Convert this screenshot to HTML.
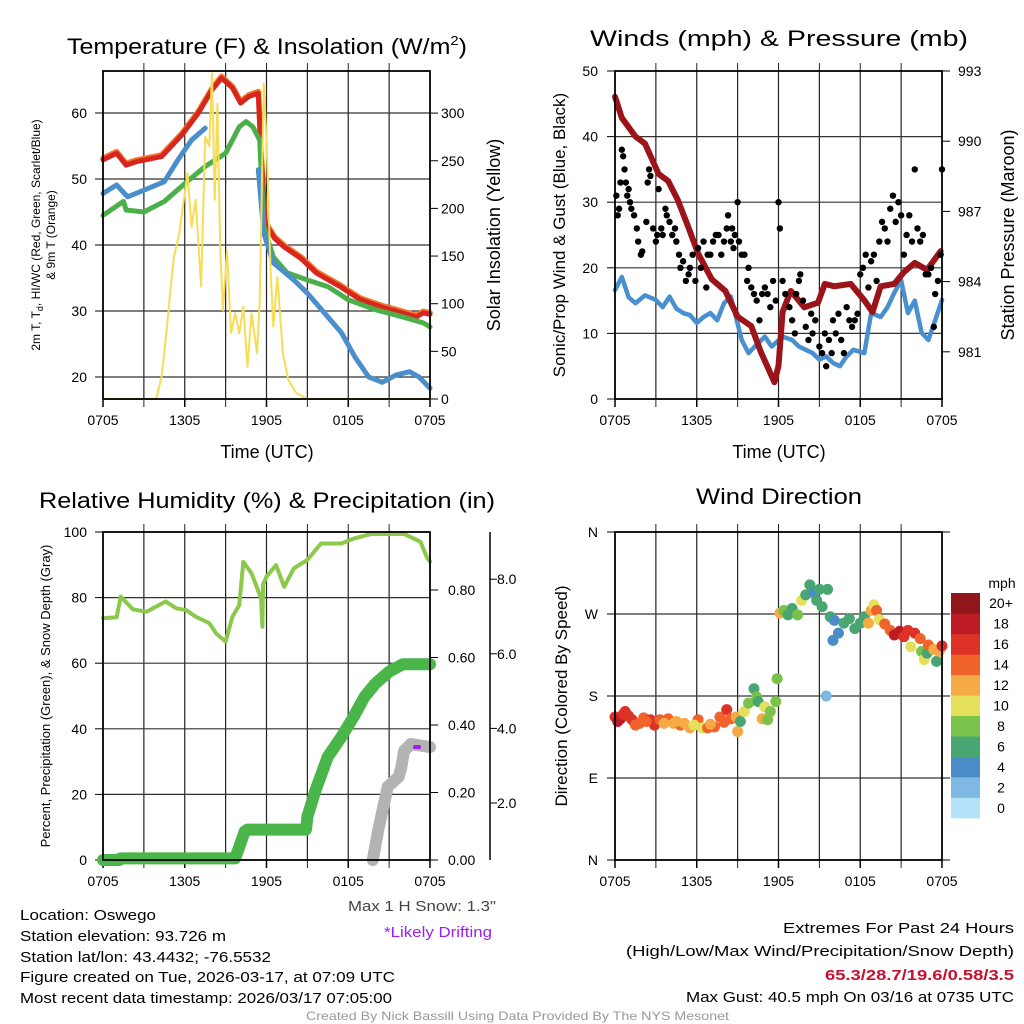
<!DOCTYPE html>
<html><head><meta charset="utf-8"><style>
html,body{margin:0;padding:0;background:#fff;}
svg{display:block;font-family:"Liberation Sans",Arial,sans-serif;}
</style></head><body>
<svg id="fig" xmlns="http://www.w3.org/2000/svg" width="1024" height="1024" viewBox="0 0 1024 1024">
<rect x="0" y="0" width="1024" height="1024" fill="#fff"/>
<text x="267" y="54" font-size="22" text-anchor="middle" textLength="400" lengthAdjust="spacingAndGlyphs">Temperature (F) &amp; Insolation (W/m<tspan font-size="13" dy="-9">2</tspan><tspan dy="9">)</tspan></text>
<text x="779" y="46" font-size="22" text-anchor="middle" textLength="378" lengthAdjust="spacingAndGlyphs">Winds (mph) &amp; Pressure (mb)</text>
<text x="267" y="508" font-size="22" text-anchor="middle" textLength="456" lengthAdjust="spacingAndGlyphs">Relative Humidity (%) &amp; Precipitation (in)</text>
<text x="779" y="504" font-size="22" text-anchor="middle" textLength="166" lengthAdjust="spacingAndGlyphs">Wind Direction</text>
<g id="p1"></g>
<g id="p2"></g>
<g id="p3"></g>
<g id="p4"></g>
<g font-size="15">
<text x="20" y="920" textLength="136" lengthAdjust="spacingAndGlyphs">Location: Oswego</text>
<text x="20" y="941" textLength="206" lengthAdjust="spacingAndGlyphs">Station elevation: 93.726 m</text>
<text x="20" y="962" textLength="251" lengthAdjust="spacingAndGlyphs">Station lat/lon: 43.4432; -76.5532</text>
<text x="20" y="982" textLength="375" lengthAdjust="spacingAndGlyphs">Figure created on Tue, 2026-03-17, at 07:09 UTC</text>
<text x="20" y="1003" textLength="372" lengthAdjust="spacingAndGlyphs">Most recent data timestamp: 2026/03/17 07:05:00</text>
<text x="348" y="911" textLength="148" lengthAdjust="spacingAndGlyphs" fill="#444">Max 1 H Snow: 1.3"</text>
<text x="384" y="937" textLength="108" lengthAdjust="spacingAndGlyphs" fill="#a020f0">*Likely Drifting</text>
<text x="783" y="933" textLength="231" lengthAdjust="spacingAndGlyphs">Extremes For Past 24 Hours</text>
<text x="626" y="956" textLength="388" lengthAdjust="spacingAndGlyphs">(High/Low/Max Wind/Precipitation/Snow Depth)</text>
<text x="825" y="980" textLength="189" lengthAdjust="spacingAndGlyphs" fill="#c8102e" font-weight="bold">65.3/28.7/19.6/0.58/3.5</text>
<text x="686" y="1002" textLength="328" lengthAdjust="spacingAndGlyphs">Max Gust: 40.5 mph On 03/16 at 0735 UTC</text>
<text x="306" y="1020" font-size="12" textLength="423" lengthAdjust="spacingAndGlyphs" fill="#999">Created By Nick Bassill Using Data Provided By The NYS Mesonet</text>
</g>
</svg>
<script>
// ---------- DATA ----------
const timeLabels = ["0705","1305","1905","0105","0705"];
const tempHours = [0,1,1.7,2.4,4.3,5.8,7,8,8.7,9.5,10.1,10.7,11.4,11.6,11.9,12.6,13.3,14.5,15.7,17.4,18.9,20.6,22,23,23.5,24];
const tempValues = [52.9,53.9,52.1,52.6,53.4,56.7,60,63.5,65.3,63.8,61.5,62.5,63,53.9,43.3,41,39.7,38,35.7,33.7,31.7,30.5,29.7,29.1,29.7,29.5];
const hiHoursA = [0,1,1.8,3,4.5,5.5,6.5,7.5];
const hiValuesA = [47.8,49.1,47.3,48.3,49.6,52.9,55.9,57.7];
const hiHoursB = [11.4,11.8,12.5,14,15,16.5,17.5,18.5,19.5,20.5,21.5,22.5,23.2,24];
const hiValuesB = [51.4,41.8,37.3,34.7,32.7,29.1,26.7,23,20,19.2,20.3,20.8,20,18.3];
const dewHours = [0,1.5,1.7,3,4.5,6,7.5,9,10,10.5,11,11.5,11.8,12.5,13.5,15,16.5,18,20,22,23.5,24];
const dewValues = [44.5,46.6,45.3,45,46.6,49.3,51.9,53.9,57.9,58.7,57.9,55.9,42.8,38.2,35.8,34.7,33.7,31.7,30.2,29.1,28.2,27.6];
const solarHours = [0,3.9,4.3,4.7,5,5.2,5.6,6,6.2,6.5,6.8,7.2,7.5,7.8,8,8.2,8.4,8.6,8.8,9.1,9.4,9.7,10,10.3,10.6,10.9,11.3,11.5,11.8,12,12.3,12.5,12.8,13.2,13.6,14.2,15,24];
const solarValues = [0,0,23,76,122,149,174,216,237,181,209,118,275,265,342,209,310,160,93,156,69,90,69,97,34,90,48,100,331,272,135,76,128,48,20,6,0,0];
const tempTicks = [20,30,40,50,60];
const solarTicks = [0,50,100,150,200,250,300];
const presHours = [0,0.5,1.5,2.2,3.2,3.9,4.6,5.4,6.1,7.1,8.1,9,10,10.7,11.7,12,12.3,12.9,13.9,14.9,15.4,16.1,17.3,18.3,18.9,19.5,20.5,21.2,22,22.9,23.9];
const presValues = [991.9,991,990.2,989.9,988.6,988.3,987.5,986.3,985.2,984.1,983.6,982.5,982.1,981,979.7,980.4,982.7,983.6,982.9,983.1,983.9,983.8,983.9,983.2,982.7,983.8,983.9,984.4,984.8,984.5,985.3];
const windHours = [0,0.5,1,1.5,2.2,3,3.5,4,4.5,5,5.5,6,6.5,7,7.5,8,8.5,9.3,9.8,10.5,11,11.5,12.3,13,13.5,14,14.5,15,15.5,16,16.5,17,17.5,18.3,18.8,19.5,20,20.5,21,21.5,22,22.5,23,23.5,24];
const windValues = [16.6,18.6,15.5,14.6,15.8,15.1,14,15.6,13.8,13.1,12.8,11.6,12.5,13.1,12,14.6,15.6,9,7,8.5,9.5,8,9.5,9,8,7.5,7,6,6.5,5.5,5,6.5,7.5,7,13.1,12.5,14,16.2,18.1,13.1,15,10.1,9,12,15.1];
const gustHours = [0.1,0.2,0.3,0.4,0.5,0.6,0.7,0.8,0.9,1.0,1.1,1.2,1.4,1.6,1.7,1.9,2.0,2.3,2.4,2.5,2.6,2.8,3.0,3.1,3.2,3.4,3.5,3.7,3.8,4.0,4.2,4.4,4.5,4.7,4.8,5.0,5.2,5.4,5.5,5.7,5.9,6.1,6.3,6.5,6.7,6.8,7.0,7.2,7.4,7.6,7.8,8.0,8.2,8.3,8.5,8.6,8.7,8.8,9.0,9.1,9.3,9.5,9.7,9.8,10.0,10.2,10.4,10.6,10.8,11.0,11.2,11.4,11.6,11.8,12.0,12.1,12.3,12.5,12.8,13.0,13.2,13.3,13.5,13.6,13.8,14.0,14.2,14.4,14.5,14.7,15.0,15.2,15.4,15.5,15.7,15.9,16.0,16.2,16.4,16.6,16.8,17.0,17.2,17.4,17.6,17.8,18.0,18.2,18.4,18.6,18.8,19.0,19.2,19.4,19.6,19.8,20.0,20.2,20.4,20.6,20.8,21.0,21.2,21.4,21.6,21.8,22.0,22.2,22.4,22.6,22.8,23.0,23.2,23.4,23.5,23.7,23.9,24.0];
const gustValues = [31,28,29,33,38,37,35,33,31,32,30,29,28,26,24,22,22.5,27,33,35,34,26,24,25,32,26,25,29,28,27,25,26,24,22,20,21,18,19,20,22,18,23,20,24,17,22,22,24,25,25,22,24,26,28,24,26,23,25,30,24,22,22,18,20,17,16,15,12,16,17,16,14,18,15,30,26,18,16,14,12,10,16,18,19,15,11,9,13,10,12,8,7,10,5,9,7,12,10,13,9,7,14,12,11,12,13,19,20,22,17,21,22,18,24,27,26,24,29,31,27,30,28,22,25,28,24,35,26,24,25,19,19,20,11,16,18,22,35];
const windTicks = [0,10,20,30,40,50];
const presTicks = [981,984,987,990,993];
const rhHours = [0,1,1.3,2.2,3.2,4.6,5.4,6.1,6.8,7.8,8.3,9,9.5,10,10.3,10.9,11.6,11.7,11.75,12,12.7,13.3,14,15,16,17.5,18.4,19.7,22.1,23.3,23.8,24];
const rhValues = [73.7,74,80.3,76.4,75.7,78.8,76.7,76.2,74.2,72.2,69.1,66.6,74.2,77.7,90.9,87.4,79.8,71.1,84,86.4,89.9,83.3,88.9,91.5,96.5,96.5,98,99.4,99.4,97,92,91];
const precipHours = [0,1.2,1.3,9.7,10.1,10.4,10.6,14.9,15.0,15.6,16.5,17.5,18.4,19.2,20,21,22,24];
const precipValues = [0,0,0.005,0.005,0.05,0.085,0.09,0.09,0.128,0.207,0.306,0.365,0.425,0.484,0.523,0.558,0.58,0.58];
const snowHours = [19.8,20.2,20.9,21.7,21.9,22.1,22.6,24];
const snowValues = [0.47,1.27,2.44,2.7,2.97,3.4,3.58,3.5];
const rhTicks = [0,20,40,60,80,100];
const precipTicks = [0,0.2,0.4,0.6,0.8];
const snowTicks = [2,4,6,8];
const dirHours = [0,0.4,0.75,1.25,1.5,2.1,2.6,2.9,3.3,3.9,4.3,4.8,5.1,5.5,6.1,6.4,6.8,7.3,7.7,8.2,8.5,8.9,9.0,9.2,9.5,9.8,10.2,10.4,10.5,10.8,11.0,11.2,11.4,11.8,11.9,12.1,12.4,12.7,13.0,13.4,13.7,14.0,14.3,14.6,14.8,15.0,15.2,15.6,15.8,16.1,16.4,16.0,15.5,16.8,17.2,17.6,18.0,18.3,18.6,18.8,19.0,19.2,19.4,19.8,20.2,20.5,20.9,21.2,21.5,21.7,22.0,22.4,22.5,22.7,22.9,23.0,23.4,23.6,23.8,24.0,0.2,0.6,1.0,1.8,2.3,3.6,4.5,5.8,7.0,8.0];
const dirValues = [157,155,163,154,148,156,154,148,154,155,150,148,150,145,154,145,145,146,157,165,155,157,141,152,163,172,188,179,174,155,168,154,163,174,199,271,274,269,276,269,285,291,302,293,285,297,278,297,267,263,249,241,180,260,265,254,260,267,260,274,280,274,264,259,252,247,251,245,252,234,249,243,229,220,227,236,231,218,229,235,152,160,158,150,152,150,152,148,149,151];
const dirSpeeds = [17,19,17,16,14,14,16,16,15,14,13,14,12,12,15,11,14,14,15,16,14,13,12,7,10,8,7,9,6,12,10,8,8,8,8,12,8,7,6,8,10,6,6,5,6,6,6,6,6,5,4,4,3,6,6,7,7,6,12,13,10,15,10,14,15,19,18,16,17,10,16,14,8,10,7,15,12,7,12,16,18,17,16,15,14,13,13,11,13,15];
const dirTickLabels = ["N","W","S","E","N"];
const speedBins = ["0","2","4","6","8","10","12","14","16","18","20+"];
const binColors = ["#b4e2f8","#7db9e2","#4a8dc6","#49a673","#7bc24b","#e5e05b","#f6aa45","#f0632b","#dd3228","#bd1c24","#911619"];

// ---------- DRAW ----------
const NS="http://www.w3.org/2000/svg";
function mk(parent,tag,attrs){const e=document.createElementNS(NS,tag);for(const k in attrs)e.setAttribute(k,attrs[k]);parent.appendChild(e);return e;}
function txt(parent,x,y,s,size,anchor,extra){const t=mk(parent,"text",Object.assign({x:x,y:y,"font-size":size,"text-anchor":anchor||"start"},extra||{}));t.textContent=s;return t;}

function panel(g,L,R,T,B,hTicksPx){
  const xs=h=>L+(R-L)*h/24;
  for(let h=3;h<24;h+=3){const l=mk(g,"line",{x1:xs(h),x2:xs(h),y1:T,y2:B,stroke:"#222","stroke-width":1.2});
    
    
    mk(g,"line",{x1:xs(h),x2:xs(h),y1:T-8,y2:T,stroke:"#222","stroke-width":1});
    mk(g,"line",{x1:xs(h),x2:xs(h),y1:B,y2:B+8,stroke:"#222","stroke-width":1});}
  hTicksPx.forEach(y=>{const l=mk(g,"line",{x1:L,x2:R,y1:y,y2:y,stroke:"#333","stroke-width":1.2});
    
    });
  timeLabels.forEach((s,i)=>{const t=txt(g,xs(i*6),B+26,s,14,"middle");
    
    
    mk(g,"line",{x1:xs(i*6),x2:xs(i*6),y1:B,y2:B+8,stroke:"#000","stroke-width":1.5});});
  return xs;
}
function border(g,L,R,T,B){const r=mk(g,"rect",{x:L,y:T,width:R-L,height:B-T,fill:"none",stroke:"#000","stroke-width":1.8});
  
  }
function line(g,hours,vals,xs,ys,color,w,name){const p=mk(g,"polyline",{points:hours.map((h,i)=>xs(h)+","+ys(vals[i])).join(" "),fill:"none",stroke:color,"stroke-width":w,"stroke-linejoin":"round","stroke-linecap":"round"});
  
  return p;}

(function(){
  const g=document.getElementById("p1");const L=103,R=430,T=71,B=399;
  const yT=v=>113-(v-60)*6.6, yS=v=>399-v*0.953;
  const xs=panel(g,L,R,T,B,tempTicks.map(yT));
  tempTicks.forEach(v=>{const t=txt(g,87,yT(v)+5,String(v),14,"end");
    
    
    mk(g,"line",{x1:L-8,x2:L,y1:yT(v),y2:yT(v),stroke:"#000"});});
  solarTicks.forEach(v=>{const t=txt(g,441,yS(v)+5,String(v),14,"start");
    
    
    mk(g,"line",{x1:R,x2:R+8,y1:yS(v),y2:yS(v),stroke:"#000"});});
  line(g,tempHours,tempValues.map(v=>v+0.25),xs,yT,"#f4792b",5.5,"9m-temp-line");
  line(g,tempHours,tempValues,xs,yT,"#d7261e",5,"2m-temp-line");
  line(g,dewHours,dewValues,xs,yT,"#4cb04a",5,"dewpoint-line");
  line(g,hiHoursA,hiValuesA,xs,yT,"#4a8fcc",5,"windchill-line-a");
  line(g,hiHoursB,hiValuesB,xs,yT,"#4a8fcc",5,"windchill-line-b");
  line(g,solarHours,solarValues,xs,yS,"#f7dc55",2,"solar-line");
  border(g,L,R,T,B);
  const a=txt(g,0,0,"2m T, T",12,"middle",{transform:"translate(40,235) rotate(-90)"});
  a.innerHTML='2m T, T<tspan font-size="9" dy="3">d</tspan><tspan dy="-3">, HI/WC (Red, Green, Scarlet/Blue)</tspan>';
  
  
  const b=txt(g,0,0,"& 9m T (Orange)",12,"middle",{transform:"translate(55,235) rotate(-90)"});
  
  
  const c=txt(g,0,0,"Solar Insolation (Yellow)",18,"middle",{transform:"translate(500,235) rotate(-90)"});
  
  
  const d=txt(g,267,458,"Time (UTC)",18,"middle");
  
  
})();

(function(){
  const g=document.getElementById("p2");const L=615,R=942,T=71,B=399;
  const yW=v=>399-v*6.56, yP=p=>71+(993-p)*23.4;
  const xs=panel(g,L,R,T,B,[10,20,30,40].map(yW));
  windTicks.forEach(v=>{const t=txt(g,598,yW(v)+5,String(v),14,"end");
    
    
    mk(g,"line",{x1:L-8,x2:L,y1:yW(v),y2:yW(v),stroke:"#000"});});
  presTicks.forEach(v=>{const t=txt(g,958,yP(v)+5,String(v),14,"start");
    
    
    mk(g,"line",{x1:R,x2:R+8,y1:yP(v),y2:yP(v),stroke:"#000"});});
  line(g,windHours,windValues,xs,yW,"#4a90d0",4.5,"sustained-wind-line");
  line(g,presHours,presValues,xs,yP,"#9b1419",6,"pressure-line");
  gustHours.forEach((h,i)=>{const c=mk(g,"circle",{cx:xs(h),cy:yW(gustValues[i]),r:3.2,fill:"#000"});
    
    });
  border(g,L,R,T,B);
  const a=txt(g,0,0,"Sonic/Prop Wind & Gust (Blue, Black)",17,"middle",{transform:"translate(565,235) rotate(-90)"});
  
  
  const b=txt(g,0,0,"Station Pressure (Maroon)",18,"middle",{transform:"translate(1014,235) rotate(-90)"});
  
  
  const d=txt(g,779,458,"Time (UTC)",18,"middle");
  
  
})();

(function(){
  const g=document.getElementById("p3");const L=103,R=430,T=532,B=860;
  const yR=v=>860-v*3.28, yPr=v=>860-v*337.5, ySn=v=>877.6-v*37.3;
  const xs=panel(g,L,R,T,B,[20,40,60,80].map(yR));
  rhTicks.forEach(v=>{const t=txt(g,87,yR(v)+5,String(v),14,"end");
    
    
    mk(g,"line",{x1:L-8,x2:L,y1:yR(v),y2:yR(v),stroke:"#000"});});
  precipTicks.forEach(v=>{const t=txt(g,448,yPr(v)+5,v.toFixed(2),14,"start");
    
    
    mk(g,"line",{x1:R,x2:R+8,y1:yPr(v),y2:yPr(v),stroke:"#000"});});
  mk(g,"line",{x1:490,x2:490,y1:532,y2:860,stroke:"#000","stroke-width":1.5});
  snowTicks.forEach(v=>{const t=txt(g,497,ySn(v)+5,v.toFixed(1),14,"start");
    
    
    mk(g,"line",{x1:490,x2:497,y1:ySn(v),y2:ySn(v),stroke:"#000"});});
  line(g,rhHours,rhValues,xs,yR,"#8cc84b",4,"rh-line");
  line(g,precipHours,precipValues,xs,yPr,"#4ab548",12,"precip-line");
  line(g,snowHours,snowValues,xs,ySn,"#b3b3b3",12,"snow-depth-line");
  const m=mk(g,"line",{x1:xs(22.9),x2:xs(23.2),y1:ySn(3.5),y2:ySn(3.5),stroke:"#a020f0","stroke-width":4,"stroke-linecap":"round"});
  
  
  border(g,L,R,T,B);
  const a=txt(g,0,0,"Percent, Precipitation (Green), & Snow Depth (Gray)",13,"middle",{transform:"translate(50,696) rotate(-90)"});
  
  
})();

(function(){
  const g=document.getElementById("p4");const L=615,R=942,T=532,B=860;
  const yD=v=>860-v*328/360;
  const xs=panel(g,L,R,T,B,[90,180,270].map(yD));
  dirTickLabels.forEach((s,i)=>{const v=360-i*90;const t=txt(g,598,yD(v)+5,s,14,"end");
    
    
    mk(g,"line",{x1:L-8,x2:L,y1:yD(v),y2:yD(v),stroke:"#000"});
    mk(g,"line",{x1:R,x2:R+8,y1:yD(v),y2:yD(v),stroke:"#000"});});
  dirHours.forEach((h,i)=>{const bi=Math.min(10,Math.floor(dirSpeeds[i]/2));
    const c=mk(g,"circle",{cx:xs(h),cy:yD(dirValues[i]),r:5.5,fill:binColors[bi]});
    
    });
  border(g,L,R,T,B);
  const a=txt(g,0,0,"Direction (Colored By Speed)",17,"middle",{transform:"translate(567,696) rotate(-90)"});
  
  
  const u=txt(g,1002,588,"mph",14,"middle");
  
  
  const H=(818-593)/11;
  speedBins.forEach((s,i)=>{const y0=818-H*(i+1);
    const r=mk(g,"rect",{x:951,y:y0,width:29,height:H+0.3,fill:binColors[i]});
    
    
    const t=txt(g,1001,y0+H/2+5,s,14,"middle");
    
    });
})();
</script>
</body></html>
